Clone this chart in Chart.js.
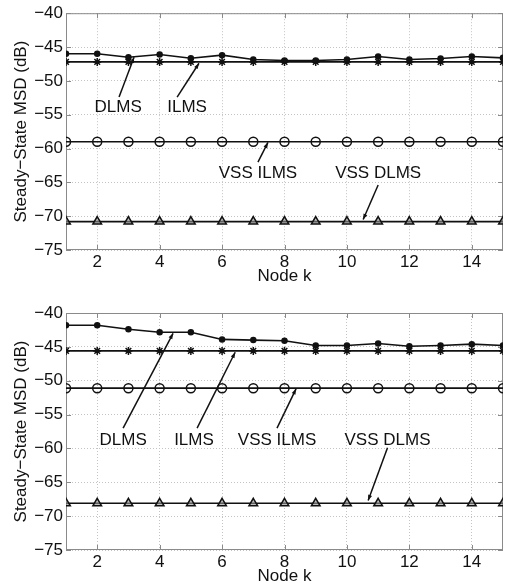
<!DOCTYPE html>
<html>
<head>
<meta charset="utf-8">
<script src="https://cdn.jsdelivr.net/npm/chart.js@4/dist/chart.umd.min.js"></script>
<style>
  body { margin: 0; background: #fff; }
  .panel { position: relative; width: 510px; }
</style>
</head>
<body>
<div class="panel" style="height:293px"><canvas id="top"></canvas></div>
<div class="panel" style="height:294px"><canvas id="bottom"></canvas></div>
<script>
// node index on x axis
const nodes = [1, 2, 3, 4, 5, 6, 7, 8, 9, 10, 11, 12, 13, 14, 15];
const xTicks = [2, 4, 6, 8, 10, 12, 14];
const yTicks = [-75, -70, -65, -60, -55, -50, -45, -40];

// upper panel
const dlmsTop = [-46.0, -46.0, -46.5, -46.1, -46.65, -46.2, -46.85, -47.0, -47.0, -46.85, -46.4, -46.85, -46.7, -46.4, -46.6];
const ilmsTop = [-47.2, -47.2, -47.2, -47.2, -47.2, -47.2, -47.2, -47.2, -47.2, -47.2, -47.2, -47.2, -47.2, -47.2, -47.2];
const vssIlmsTop = [-59.0, -59.0, -59.0, -59.0, -59.0, -59.0, -59.0, -59.0, -59.0, -59.0, -59.0, -59.0, -59.0, -59.0, -59.0];
const vssDlmsTop = [-70.8, -70.8, -70.8, -70.8, -70.8, -70.8, -70.8, -70.8, -70.8, -70.8, -70.8, -70.8, -70.8, -70.8, -70.8];

// lower panel
const dlmsBot = [-41.8, -41.8, -42.4, -42.85, -42.85, -43.9, -44.0, -44.1, -44.8, -44.8, -44.5, -44.9, -44.8, -44.6, -44.8];
const ilmsBot = [-45.6, -45.6, -45.6, -45.6, -45.6, -45.6, -45.6, -45.6, -45.6, -45.6, -45.6, -45.6, -45.6, -45.6, -45.6];
const vssIlmsBot = [-51.1, -51.1, -51.1, -51.1, -51.1, -51.1, -51.1, -51.1, -51.1, -51.1, -51.1, -51.1, -51.1, -51.1, -51.1];
const vssDlmsBot = [-68.1, -68.1, -68.1, -68.1, -68.1, -68.1, -68.1, -68.1, -68.1, -68.1, -68.1, -68.1, -68.1, -68.1, -68.1];

// text labels with arrows: [label, textX, textY, fromX, fromY, tipX, tipY] in data units
const notesTop = [
  ["DLMS", 2.67, -53.9, 2.70, -52.4, 3.18, -46.5],
  ["ILMS", 4.88, -53.9, 4.56, -52.4, 5.26, -47.4],
  ["VSS ILMS", 7.15, -63.6, 7.15, -62.0, 7.47, -59.1],
  ["VSS DLMS", 11.0, -63.6, 11.0, -65.4, 10.52, -70.5]
];
const notesBot = [
  ["DLMS", 2.83, -58.8, 2.83, -57.0, 4.43, -43.0],
  ["ILMS", 5.10, -58.8, 5.20, -57.0, 6.42, -45.8],
  ["VSS ILMS", 7.76, -58.8, 7.76, -57.0, 8.37, -51.2],
  ["VSS DLMS", 11.3, -58.8, 11.3, -59.9, 10.68, -67.7]
];

const FONT = '"Liberation Sans", Arial, Helvetica, sans-serif';
const FS = 17;

// box around the plot area plus inward tick marks (matlab style)
const boxPlugin = {
  id: "box",
  beforeDatasetsDraw(chart) {
    const { ctx, chartArea: a, scales } = chart;
    ctx.save();
    ctx.strokeStyle = "#8a8a8a";
    ctx.lineWidth = 1;
    ctx.strokeRect(a.left + 0.5, a.top + 0.5, a.width - 1, a.height - 1);
    ctx.beginPath();
    for (const t of xTicks) {
      const x = Math.round(scales.x.getPixelForValue(t)) + 0.5;
      ctx.moveTo(x, a.bottom); ctx.lineTo(x, a.bottom - 5);
      ctx.moveTo(x, a.top); ctx.lineTo(x, a.top + 5);
    }
    for (const t of yTicks) {
      const y = Math.round(scales.y.getPixelForValue(t)) + 0.5;
      ctx.moveTo(a.left, y); ctx.lineTo(a.left + 5, y);
      ctx.moveTo(a.right, y); ctx.lineTo(a.right - 5, y);
    }
    ctx.stroke();
    ctx.restore();
  }
};

const notesPlugin = {
  id: "notes",
  afterDatasetsDraw(chart, args, opts) {
    const { ctx, scales } = chart;
    const px = v => scales.x.getPixelForValue(v);
    const py = v => scales.y.getPixelForValue(v);
    ctx.save();
    ctx.strokeStyle = "#111";
    ctx.fillStyle = "#111";
    ctx.lineWidth = 1.5;
    ctx.font = FS + "px " + FONT;
    ctx.textAlign = "center";
    ctx.textBaseline = "middle";
    for (const n of opts.items || []) {
      ctx.fillText(n[0], px(n[1]), py(n[2]));
      const x0 = px(n[3]), y0 = py(n[4]), x1 = px(n[5]), y1 = py(n[6]);
      ctx.beginPath();
      ctx.moveTo(x0, y0);
      ctx.lineTo(x1, y1);
      ctx.stroke();
      // little head
      const ang = Math.atan2(y1 - y0, x1 - x0);
      ctx.beginPath();
      ctx.moveTo(x1, y1);
      ctx.lineTo(x1 - 6 * Math.cos(ang - 0.35), y1 - 6 * Math.sin(ang - 0.35));
      ctx.lineTo(x1 - 6 * Math.cos(ang + 0.35), y1 - 6 * Math.sin(ang + 0.35));
      ctx.closePath();
      ctx.fill();
    }
    ctx.restore();
  }
};

const toPts = arr => arr.map((v, i) => ({ x: nodes[i], y: v }));

function series(label, values, style, radius, fill) {
  return {
    label: label,
    data: toPts(values),
    borderColor: "#111",
    borderWidth: 1.6,
    pointStyle: style,
    pointRadius: radius,
    pointBorderColor: "#111",
    pointBorderWidth: 1.5,
    pointBackgroundColor: fill,
    tension: 0
  };
}

function makeChart(id, sets, notes, padTop, xHeight, titlePad) {
  return new Chart(document.getElementById(id), {
    type: "line",
    data: {
      datasets: [
        series("DLMS", sets[0], "circle", 2.5, "#111"),
        series("ILMS", sets[1], "star", 4, "#111"),
        series("VSS ILMS", sets[2], "circle", 4.5, "rgba(0,0,0,0)"),
        series("VSS DLMS", sets[3], "triangle", 5, "rgba(150,150,150,0.6)")
      ]
    },
    plugins: [boxPlugin, notesPlugin],
    options: {
      responsive: true,
      maintainAspectRatio: false,
      animation: false,
      layout: { padding: { top: padTop, right: 7, left: 0, bottom: 0 } },
      plugins: {
        legend: { display: false },
        tooltip: { enabled: false },
        notes: { items: notes }
      },
      scales: {
        x: {
          type: "linear",
          min: 1,
          max: 15,
          afterBuildTicks: s => { s.ticks = xTicks.map(v => ({ value: v })); },
          afterFit: s => { s.height = xHeight; },
          grid: { color: "#c4c4c4", drawTicks: false },
          border: { display: false, dash: [1, 2] },
          ticks: { color: "#111", padding: 2, font: { family: FONT, size: FS } },
          title: {
            display: true,
            text: "Node k",
            color: "#111",
            padding: { top: 0, bottom: titlePad },
            font: { family: FONT, size: FS }
          }
        },
        y: {
          min: -75,
          max: -40,
          afterBuildTicks: s => { s.ticks = yTicks.map(v => ({ value: v })); },
          afterFit: s => { s.width = 66; },
          grid: { color: "#c4c4c4", drawTicks: false },
          border: { display: false, dash: [1, 2] },
          ticks: {
            color: "#111",
            padding: 3,
            font: { family: FONT, size: FS },
            callback: v => String(v).replace("-", "\u2212")
          },
          title: {
            display: true,
            text: "Steady\u2212State MSD (dB)",
            color: "#111",
            padding: { top: 11, bottom: 0 },
            font: { family: FONT, size: FS }
          }
        }
      }
    }
  });
}

makeChart("top", [dlmsTop, ilmsTop, vssIlmsTop, vssDlmsTop], notesTop, 13, 43, 6);
makeChart("bottom", [dlmsBot, ilmsBot, vssIlmsBot, vssDlmsBot], notesBot, 20, 37, 0);
</script>
</body>
</html>
